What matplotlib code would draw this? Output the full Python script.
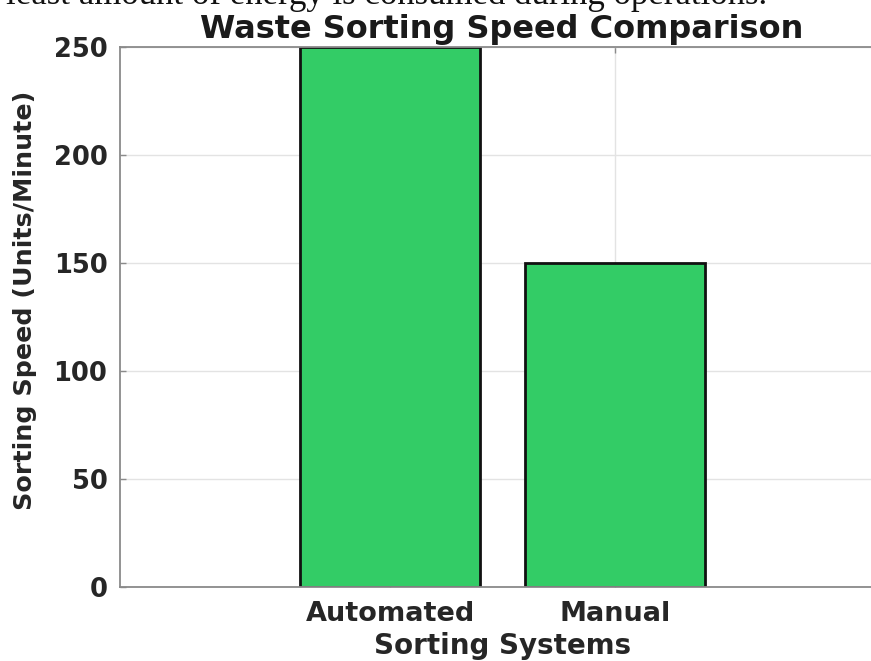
import matplotlib
matplotlib.use("Agg")
import matplotlib.pyplot as plt

# Sorting throughput of each system (units per minute)
systems = ["Automated", "Manual"]
speeds = [250, 150]
y_ticks = [0, 50, 100, 150, 200, 250]

W, H, DPI = 871, 661, 100
fig = plt.figure(figsize=(W / DPI, H / DPI), dpi=DPI)
fig.patch.set_facecolor("white")

# Axes box in pixel terms: left spine at x=120, bottom at y=587, top at y=47
left_px, right_px, top_px, bottom_px = 120, 885, 47, 587
ax = fig.add_axes([left_px / W, (H - bottom_px) / H,
                   (right_px - left_px) / W, (bottom_px - top_px) / H])

positions = list(range(1, len(systems) + 1))
ax.bar(positions, speeds, width=0.8, color="#33cc66",
       edgecolor="#111111", linewidth=2.0, zorder=2)

ax.set_xlim(-0.2, 3.2)
ax.set_ylim(0, 250)
ax.set_xticks(positions)
ax.set_xticklabels(systems)
ax.set_yticks(y_ticks)

ax.set_axisbelow(True)
ax.grid(True, color="#e3e3e3", linewidth=1.0)

for s in ax.spines.values():
    s.set_color("#8a8a8a")
    s.set_linewidth(1.3)

ax.tick_params(axis="both", direction="in", length=4, width=1.0,
               color="#8a8a8a", labelcolor="#262626",
               top=True, right=True)
ax.tick_params(axis="y", labelsize=18.5, pad=9)
ax.tick_params(axis="x", labelsize=19.5, pad=10)
for lab in ax.get_xticklabels() + ax.get_yticklabels():
    lab.set_fontweight("bold")

ax.set_xlabel("Sorting Systems", fontsize=20, fontweight="bold",
              color="#262626", labelpad=4)
ax.set_ylabel("Sorting Speed (Units/Minute)", fontsize=18.3,
              fontweight="bold", color="#262626")
ax.yaxis.set_label_coords(-0.108, 0.53)

fig.text(502 / W, 1 - 38 / H, "Waste Sorting Speed Comparison",
         ha="center", va="baseline", fontsize=23, fontweight="bold",
         color="#1a1a1a")

# Caption line of the surrounding document, clipped at the top edge
fig.text(6 / W, 1 - 4 / H,
         "least amount of energy is consumed during operations.",
         ha="left", va="baseline", fontsize=25,
         family="Liberation Serif", color="#111111")

fig.savefig("out.png", dpi=DPI, facecolor="white")
